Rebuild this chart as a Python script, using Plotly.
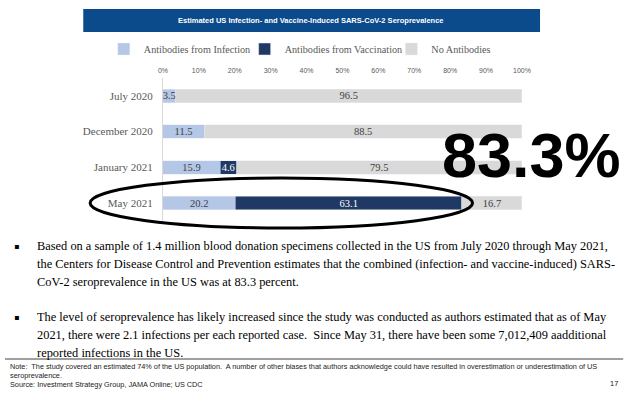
import plotly.graph_objects as go

W, H = 640, 396

categories = ["July 2020", "December 2020", "January 2021", "May 2021"]
infection = [3.5, 11.5, 15.9, 20.2]
vaccination = [None, None, 4.6, 63.1]
no_antibodies = [96.5, 88.5, 79.5, 16.7]
tick_vals = [0, 10, 20, 30, 40, 50, 60, 70, 80, 90, 100]
tick_text = [f"{v}%" for v in tick_vals]

title = "Estimated US Infection- and Vaccine-Induced SARS-CoV-2 Seroprevalence"
big_value = "83.3%"
bullet1 = [
    "Based on a sample of 1.4 million blood donation specimens collected in the US from July 2020 through May 2021,",
    "the Centers for Disease Control and Prevention estimates that the combined (infection- and vaccine-induced) SARS-",
    "CoV-2 seroprevalence in the US was at 83.3 percent.",
]
bullet2 = [
    "The level of seroprevalence has likely increased since the study was conducted as authors estimated that as of May",
    "2021, there were 2.1 infections per each reported case.  Since May 31, there have been some 7,012,409 aadditional",
    "reported infections in the US.",
]
notes = [
    "Note:  The study covered an estimated 74% of the US population.  A number of other biases that authors acknowledge could have resulted in overestimation or underestimation of US",
    "seroprevalence.",
    "Source: Investment Strategy Group, JAMA Online; US CDC",
]

SERIF = "Liberation Serif, Times New Roman, serif"
SANS = "Liberation Sans, Arial, sans-serif"


def px(x):
    return x / W


def py(y):
    return 1 - y / H


fig = go.Figure()
fig.add_trace(go.Bar(
    name="Antibodies from Infection", y=categories, x=infection, orientation="h",
    marker_color="#b4c7e7", texttemplate="%{x:.1f}", textposition="inside", textangle=0,
    insidetextanchor="middle", textfont=dict(family=SERIF, size=10.5, color="#404040"),
    legend="legend",
))
fig.add_trace(go.Bar(
    name="Antibodies from Vaccination", y=categories, x=vaccination, orientation="h",
    marker_color="#1f3864", texttemplate="%{x:.1f}", textposition="inside", textangle=0,
    insidetextanchor="middle", textfont=dict(family=SERIF, size=10.5, color="#ffffff"),
    legend="legend2",
))
fig.add_trace(go.Bar(
    name="No Antibodies", y=categories, x=no_antibodies, orientation="h",
    marker_color="#d9d9d9", texttemplate="%{x:.1f}", textposition="inside", textangle=0,
    insidetextanchor="middle", textfont=dict(family=SERIF, size=10.5, color="#404040"),
    legend="legend3",
))

legend_common = dict(
    orientation="h", xanchor="left", y=py(49), yanchor="middle",
    font=dict(family=SERIF, size=10.2, color="#595959"),
    bgcolor="rgba(0,0,0,0)", itemclick=False,
)

fig.update_layout(
    width=W, height=H,
    margin=dict(l=0, r=0, t=0, b=0),
    paper_bgcolor="white", plot_bgcolor="white",
    barmode="stack", bargap=0.62,
    uniformtext=dict(minsize=10.5, mode="show"),
    showlegend=True,
    legend=dict(x=px(101), **legend_common),
    legend2=dict(x=px(245), **legend_common),
    legend3=dict(x=px(395), **legend_common),
    xaxis=dict(
        domain=[px(161.5), px(528.5)], range=[0, 100], side="top",
        tickvals=tick_vals, ticktext=tick_text, showgrid=False, zeroline=False,
        showline=False, ticks="", tickfont=dict(family=SANS, size=7, color="#595959"),
        ticklabelstandoff=3, fixedrange=True,
    ),
    yaxis=dict(
        domain=[py(221), py(78)], categoryorder="array", categoryarray=categories,
        autorange="reversed", showgrid=False, zeroline=False, showline=True,
        linecolor="#d9d9d9", linewidth=1, ticks="", ticklabelstandoff=7,
        tickfont=dict(family=SERIF, size=11, color="#595959"), fixedrange=True,
    ),
)

shapes = [
    dict(type="rect", xref="paper", yref="paper", x0=px(80), x1=px(547), y0=py(32), y1=py(9),
         fillcolor="#0b4a8b", line=dict(width=0), layer="below"),
    dict(type="circle", xref="paper", yref="paper", x0=px(87), x1=px(478), y0=py(228), y1=py(178),
         line=dict(color="black", width=3), layer="above"),
    dict(type="line", xref="paper", yref="paper", x0=px(0), x1=px(632), y0=py(359), y1=py(359),
         line=dict(color="#404040", width=1)),
]
fig.update_layout(shapes=shapes)

ann = []
ann.append(dict(text=f"<b>{title}</b>", x=px(313), y=py(20.5), xref="paper", yref="paper",
                showarrow=False, xanchor="center", yanchor="middle",
                font=dict(family=SANS, size=7.5, color="white")))
ann.append(dict(text=f"<b>{big_value}</b>", x=px(538), y=py(155), xref="paper", yref="paper",
                showarrow=False, xanchor="center", yanchor="middle",
                font=dict(family=SANS, size=63, color="black")))

for lines, y0 in ((bullet1, 246), (bullet2, 317)):
    ann.append(dict(text="▪", x=px(12), y=py(y0), xref="paper", yref="paper", showarrow=False,
                    xanchor="center", yanchor="middle", font=dict(family="DejaVu Sans", size=8, color="black")))
    for i, line in enumerate(lines):
        ann.append(dict(text=line, x=px(31), y=py(y0 + 18 * i), xref="paper", yref="paper",
                        showarrow=False, xanchor="left", yanchor="middle",
                        font=dict(family=SERIF, size=12.4, color="black")))

for i, line in enumerate(notes):
    ann.append(dict(text=line, x=px(3), y=py(366 + 9 * i), xref="paper", yref="paper",
                    showarrow=False, xanchor="left", yanchor="middle",
                    font=dict(family=SANS, size=7.3, color="#222222")))
ann.append(dict(text="17", x=px(629), y=py(383), xref="paper", yref="paper", showarrow=False,
                xanchor="right", yanchor="middle", font=dict(family=SANS, size=7.5, color="#222222")))

fig.update_layout(annotations=ann)
fig.write_html(
    "out.html",
    config={"displayModeBar": False},
    post_script="document.body.style.margin='0';document.body.style.overflow='hidden';",
)
